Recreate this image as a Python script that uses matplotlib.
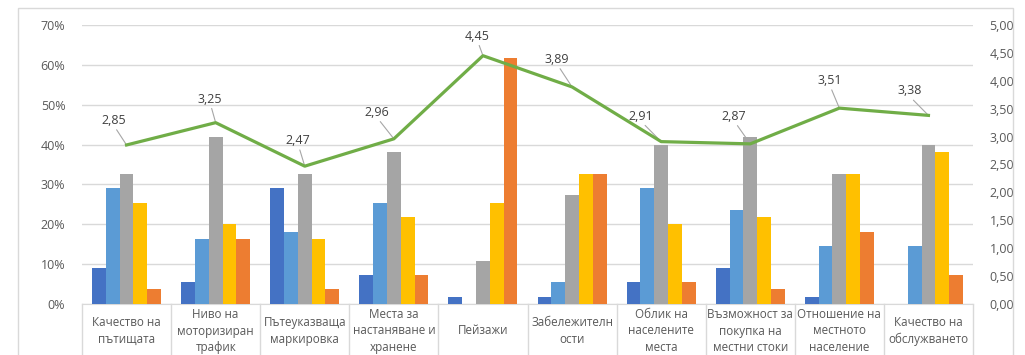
import numpy as np
import matplotlib.pyplot as plt
from matplotlib.patches import Rectangle
from matplotlib.ticker import FuncFormatter, MultipleLocator
import matplotlib.transforms as mtrans

plt.rcParams['font.family'] = ['Open Sans', 'DejaVu Sans']

categories = [
    "Качество на\nпътищата",
    "Ниво на\nмоторизиран\nтрафик",
    "Пътеуказваща\nмаркировка",
    "Места за\nнастаняване и\nхранене",
    "Пейзажи",
    "Забележителн\nости",
    "Облик на\nнаселените\nместа",
    "Възможност за\nпокупка на\nместни стоки",
    "Отношение на\nместното\nнаселение",
    "Качество на\nобслужването",
]

# share of answers per score (1..5), percent
score_1 = [9.09, 5.45, 29.09, 7.27, 1.82, 1.82, 5.45, 9.09, 1.82, 0.00]
score_2 = [29.09, 16.36, 18.18, 25.45, 0.00, 5.45, 29.09, 23.64, 14.55, 14.55]
score_3 = [32.73, 41.82, 32.73, 38.18, 10.91, 27.27, 40.00, 41.82, 32.73, 40.00]
score_4 = [25.45, 20.00, 16.36, 21.82, 25.45, 32.73, 20.00, 21.82, 32.73, 38.18]
score_5 = [3.64, 16.36, 3.64, 7.27, 61.82, 32.73, 5.45, 3.64, 18.18, 7.27]
avg_score = [2.85, 3.25, 2.47, 2.96, 4.45, 3.89, 2.91, 2.87, 3.51, 3.38]

series = [score_1, score_2, score_3, score_4, score_5]
colors = ["#4472C4", "#5B9BD5", "#A5A5A5", "#FFC000", "#ED7D31"]

# label offsets in pixels (dx, dy) relative to the point
label_offsets = [(-13, 18), (-6, 17), (-7, 19), (-17, 20), (-6, 13),
                 (-15, 21), (-20, 19), (-16, 21), (-10, 21), (-19, 18)]

W, H = 1025, 355
fig = plt.figure(figsize=(W / 100, H / 100), dpi=100)
fig.patch.set_facecolor("white")

# chart border
fig.patches.append(Rectangle((18 / W, -0.1), (1013 - 18) / W, (H - 8) / H + 0.1,
                             transform=fig.transFigure, fill=False,
                             edgecolor="#D9D9D9", linewidth=1))

ax = fig.add_axes([82 / W, (H - 304) / H, (973 - 82) / W, (304 - 25) / H])
x = np.arange(len(categories))
w = 0.155
for j, (vals, c) in enumerate(zip(series, colors)):
    ax.bar(x + (j - 2) * w, vals, width=w, color=c, zorder=3)

ax.set_xlim(-0.5, len(categories) - 0.5)
ax.set_ylim(0, 70)
ax.yaxis.set_major_locator(MultipleLocator(10))
ax.yaxis.set_major_formatter(FuncFormatter(lambda v, p: f"{int(round(v))}%"))
ax.grid(axis="y", color="#D9D9D9", linewidth=1, zorder=0)
for s in ["top", "right", "left"]:
    ax.spines[s].set_visible(False)
ax.spines["bottom"].set_color("#D9D9D9")
ax.tick_params(axis="y", length=0, pad=12, labelsize=9, labelcolor="#595959")
ax.set_xticks([])

# category cells below the axis
trans = mtrans.blended_transform_factory(ax.transData, ax.transAxes)
for b in np.arange(-0.5, len(categories), 1.0):
    ax.plot([b, b], [0, -0.3], transform=trans, color="#D9D9D9",
            linewidth=1, clip_on=False)
for i, lab in enumerate(categories):
    ax.annotate(lab, xy=(i, 0), xycoords=trans, xytext=(0, -27),
                textcoords="offset pixels", ha="center", va="center",
                fontsize=8.4, color="#595959", linespacing=1.32,
                annotation_clip=False)

ax2 = ax.twinx()
ax2.set_ylim(0, 5)
ax2.yaxis.set_major_locator(MultipleLocator(0.5))
ax2.yaxis.set_major_formatter(FuncFormatter(lambda v, p: f"{v:.2f}".replace(".", ",")))
for s in ax2.spines.values():
    s.set_visible(False)
ax2.tick_params(axis="y", length=0, pad=12, labelsize=9, labelcolor="#595959")
ax2.plot(x, avg_score, color="#70AD47", linewidth=2.3, zorder=4)

for i, (v, (dx, dy)) in enumerate(zip(avg_score, label_offsets)):
    ax2.annotate(f"{v:.2f}".replace(".", ","), xy=(i, v), xytext=(dx, dy),
                 textcoords="offset pixels", ha="center", va="bottom",
                 fontsize=9, color="#404040",
                 arrowprops=dict(arrowstyle="-", color="#A6A6A6", lw=0.8,
                                 shrinkA=0, shrinkB=1, relpos=(0.55, 0)))

fig.savefig("out.png", dpi=100)
